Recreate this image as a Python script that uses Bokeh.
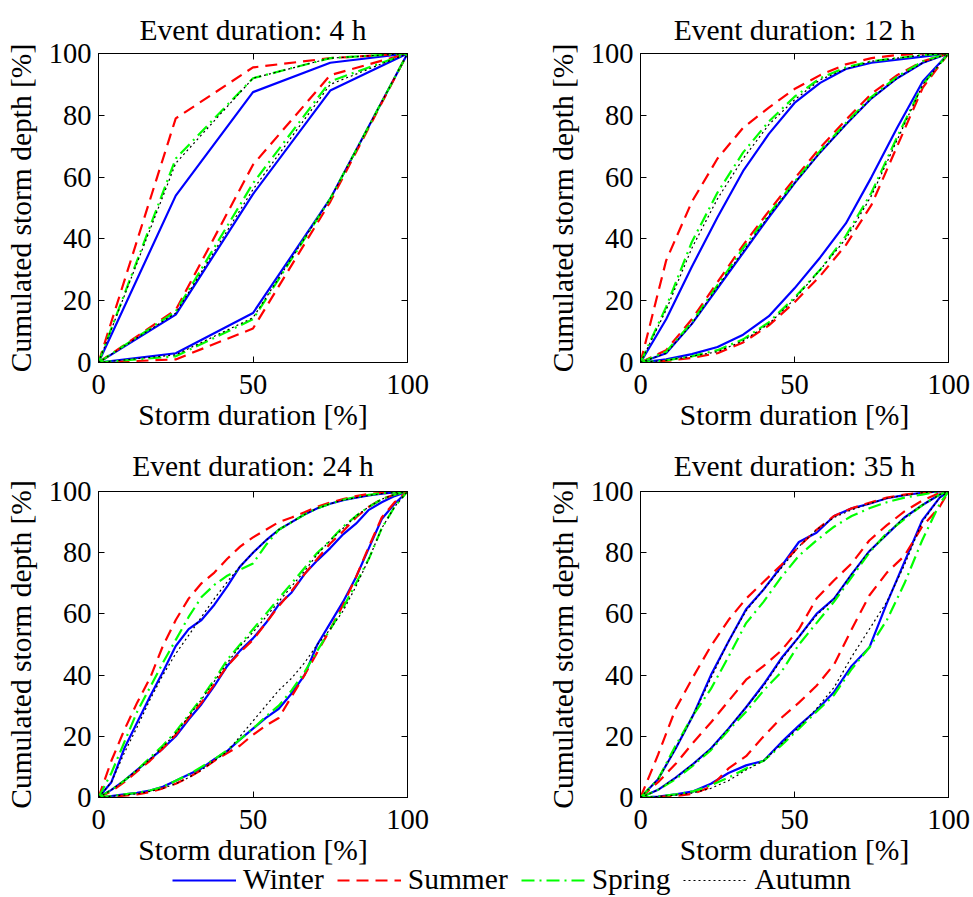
from bokeh.plotting import figure
from bokeh.layouts import column, row
from bokeh.models import Range1d, FixedTicker, LinearAxis, Legend, LegendItem
from bokeh.embed import file_html
from bokeh.resources import INLINE

# ---------------- data (percent of storm duration / cumulated depth) -------------
seasons = ["Winter", "Summer", "Spring", "Autumn"]
x_ticks = [0, 50, 100]
y_ticks = [0, 20, 40, 60, 80, 100]

# Event duration 4 h  (curves: upper, median, lower)
x_4h = [0, 25, 50, 75, 100]
winter_4h = [[0, 54, 87.5, 97, 100], [0, 15.5, 54.5, 88, 100], [0, 3, 16, 53, 100]]
summer_4h = [[0, 79, 95.5, 98.5, 100], [0, 17, 64, 93, 100], [0, 1, 11, 52, 100]]
spring_4h = [[0, 66, 92, 98.5, 100], [0, 16.5, 58, 91, 100], [0, 2, 14, 53, 100]]
autumn_4h = [[0, 64.5, 92, 98.5, 100], [0, 16, 56, 90, 100], [0, 2.5, 14.5, 53, 100]]

# Event duration 12 h
x_12h = [0, 8.33, 16.67, 25, 33.33, 41.67, 50, 58.33, 66.67, 75, 83.33, 91.67, 100]
winter_12h = [[0, 14, 31, 47, 62, 74, 84, 90.5, 95, 97, 98, 99, 100],
              [0, 3, 12.5, 24, 35.5, 47, 58, 68, 77, 85.5, 92, 97, 100],
              [0, 1, 2.7, 5, 9, 15, 24, 34, 45, 60, 76, 91, 100]]
summer_12h = [[0, 33, 52, 66, 76, 82.5, 88.5, 93, 96.5, 98.5, 99.5, 100, 100],
              [0, 4, 14, 26, 38, 49, 59.5, 69.5, 78.5, 87, 93, 97.5, 100],
              [0, 0.5, 1.5, 3, 6.5, 12, 19.5, 28, 38, 51, 70, 89, 100]]
spring_12h = [[0, 18, 39, 55, 68, 78, 86, 92, 95.5, 97.5, 98.5, 99.5, 100],
              [0, 3.5, 13, 25, 37, 48, 58.5, 68.5, 77.5, 86, 92.5, 97.5, 100],
              [0, 0.7, 2, 4, 7.5, 13, 21, 30, 41, 55, 73, 90, 100]]
autumn_12h = [[0, 17, 37, 53, 66, 77, 85, 91.5, 95, 97.5, 98.5, 99.5, 100],
              [0, 3, 12.5, 24.5, 36, 47.5, 58, 68, 77, 85.5, 92, 97, 100],
              [0, 0.7, 2, 3.5, 7, 12.5, 20.5, 30, 40, 54, 72, 90, 100]]

# Event duration 24 h
x_24h = [0, 4.17, 8.33, 12.5, 16.67, 20.83, 25, 29.17, 33.33, 37.5, 41.67, 45.83, 50,
         54.17, 58.33, 62.5, 66.67, 70.83, 75, 79.17, 83.33, 87.5, 91.67, 95.83, 100]
winter_24h = [[0, 5, 16, 24.5, 33, 41, 49.5, 55, 58, 63, 69, 75.5, 80, 84, 87.5, 90, 92.5,
               94.5, 96, 97.2, 98, 98.7, 99.3, 99.7, 100],
              [0, 2.5, 5.5, 9, 12.5, 16, 20, 25.5, 30.5, 36.5, 43, 48, 52, 57, 63, 67, 73,
               77.5, 81.5, 86, 89.5, 94, 96.5, 98.5, 100],
              [0, 0.5, 1, 1.5, 2.3, 3.5, 5.5, 7.5, 9.5, 12.5, 15.2, 19, 22.5, 26, 29, 34, 40,
               50, 57, 64, 72, 81.5, 91, 96, 100]]
summer_24h = [[0, 12, 22, 31, 39, 49.5, 58, 65, 70, 73.5, 78, 82, 85, 87.5, 90, 91.5, 93.2,
               95, 96.4, 97.5, 98.5, 99.2, 99.6, 99.9, 100],
              [0, 2, 5, 8.5, 12, 16, 20.5, 26, 31, 37, 43, 47.5, 51.5, 57, 62.5, 67.5, 73,
               78, 83, 87, 91.5, 95, 97.5, 99, 100],
              [0, 0.3, 0.6, 1, 1.8, 3, 4.5, 6.5, 9, 12, 14.5, 17, 20.5, 23.5, 26, 33, 40,
               47.5, 55, 63, 72, 82, 91.5, 96.5, 100]]
spring_24h = [[0, 8, 18, 28, 36, 44, 51.5, 59, 65.5, 69.5, 72.5, 74.5, 76.5, 82.5, 87.5, 90,
               92.5, 94.5, 96, 97.3, 98.2, 98.9, 99.4, 99.8, 100],
              [0, 2.5, 5.5, 9, 13, 17, 21.5, 27, 32.5, 38.5, 45, 50, 55, 60, 65, 70, 75, 80,
               84, 88.5, 92, 95, 97.5, 99, 100],
              [0, 0.5, 1, 1.5, 2.3, 3.5, 5.5, 7.5, 10, 12.5, 15.5, 19, 22.5, 26.5, 30, 35, 41,
               48, 55, 62, 70, 78, 88, 95, 100]]
autumn_24h = [[0, 5, 14.5, 23, 32, 40, 47, 53, 59, 65, 70.5, 75.5, 80, 84, 87.5, 90, 92.5,
               94.5, 96, 97.2, 98, 98.7, 99.3, 99.7, 100],
              [0, 2.5, 5.5, 9, 12.5, 16.5, 21, 26.5, 32, 38, 44, 49.5, 54, 59, 64, 69, 74,
               79.5, 84, 88, 92, 95, 97.5, 99, 100],
              [0, 0.4, 0.8, 1.2, 2, 3, 4.5, 6.5, 9, 12, 15, 20, 25, 30, 35, 39, 44, 50, 55,
               61, 69, 78, 88, 95, 100]]

# Event duration 35 h
x_35h = [0, 5.71, 11.43, 17.14, 22.86, 28.57, 34.29, 40, 45.71, 51.43, 57.14, 62.86,
         68.57, 74.29, 80, 85.71, 91.43, 97.14, 100]
winter_35h = [[0, 6, 16, 27, 40, 51, 61.5, 68, 75.5, 83.5, 86.5, 92, 94.5, 96, 97.8, 98.8,
               99.6, 100, 100],
              [0, 2.5, 6.5, 11, 16, 22.5, 29.5, 37, 45.5, 52.5, 60, 65, 73, 80.5, 86, 91.5,
               95.5, 99, 100],
              [0, 0.3, 1, 2, 4.5, 8, 10.5, 12, 18, 23.5, 28.5, 34.5, 43, 49, 63.5, 77, 90.5,
               98, 100]]
summer_35h = [[0, 14, 29, 39.5, 49.5, 58, 65, 70.5, 76, 82, 87.5, 92, 94.5, 96.3, 98, 99,
               99.6, 100, 100],
              [0, 5, 11, 18, 24.5, 31.5, 38.5, 43, 48, 55, 65, 71, 76.5, 84, 89, 93.5, 97,
               99.5, 100],
              [0, 0.2, 0.5, 1.2, 3.5, 9.5, 13.5, 20, 26, 31, 36.5, 43.5, 55, 66, 73.5, 79,
               88.5, 95, 100]]
spring_35h = [[0, 6, 17, 27, 35.5, 46, 57, 64, 72, 79, 84, 88.5, 92, 94.5, 96.5, 98, 99,
               100, 100],
              [0, 2.5, 6, 10.5, 15.5, 22, 28, 35, 41, 50, 57, 64, 72, 80, 86.5, 91, 95.5,
               99, 100],
              [0, 0.3, 1, 2, 4, 6.5, 9.5, 12, 17, 22.5, 28, 33.5, 42, 49, 58, 70, 84, 96,
               100]]
autumn_35h = [[0, 6, 16, 27, 39, 51, 61, 68, 75, 82, 87.5, 91.5, 94, 96, 97.8, 98.8, 99.6,
               100, 100],
              [0, 2.5, 6.5, 11, 16, 22.5, 29.5, 36.5, 45, 52.5, 59.5, 65, 73, 80.5, 86,
               91.5, 95.5, 99, 100],
              [0, 0.3, 0.8, 1.5, 3, 5.5, 9, 12, 17.5, 23, 29, 36, 46, 55, 64, 76, 90, 98,
               100]]

# ---------------- styles ----------------
FONT = "Liberation Serif"
FS = "29.5px"
TICK_FS = "28.5px"
colors = {"Winter": "#0000ff", "Summer": "#ff0000", "Spring": "#00ff00", "Autumn": "#000000"}
dashes = {"Winter": "solid", "Summer": "12 7", "Spring": "13 5 2 5", "Autumn": "2 3"}
widths = {"Winter": 2.2, "Summer": 2.2, "Spring": 2.2, "Autumn": 1.2}


def mirror_axis(ticks):
    return LinearAxis(ticker=FixedTicker(ticks=ticks), major_label_text_font_size="0px",
                      major_label_standoff=0, major_tick_in=6, major_tick_out=0,
                      minor_tick_in=0, minor_tick_out=0, axis_line_color="black")


def panel(title, x, series, width, height, mbl, mbr, mbt, mbb, title_standoff):
    p = figure(width=width, height=height, x_range=Range1d(0, 100), y_range=Range1d(0, 100),
               toolbar_location=None, output_backend="svg",
               min_border_left=mbl, min_border_right=mbr,
               min_border_top=mbt, min_border_bottom=mbb)
    p.grid.visible = False
    p.outline_line_color = "black"
    p.title.text = title
    p.title.text_font = FONT
    p.title.text_font_size = FS
    p.title.text_font_style = "normal"
    p.title.text_color = "black"
    p.title.align = "center"
    p.title.standoff = title_standoff

    p.xaxis.ticker = FixedTicker(ticks=x_ticks)
    p.yaxis.ticker = FixedTicker(ticks=y_ticks)
    p.xaxis.axis_label = "Storm duration [%]"
    p.yaxis.axis_label = "Cumulated storm depth [%]"
    for ax in (p.xaxis[0], p.yaxis[0]):
        ax.major_tick_in = 6
        ax.major_tick_out = 0
        ax.minor_tick_in = 0
        ax.minor_tick_out = 0
        ax.major_label_text_font = FONT
        ax.major_label_text_font_size = TICK_FS
        ax.major_label_text_color = "black"
        ax.axis_label_text_font = FONT
        ax.axis_label_text_font_size = FS
        ax.axis_label_text_font_style = "normal"
        ax.axis_label_text_color = "black"
        ax.axis_line_color = "black"
    p.xaxis.major_label_standoff = 12
    p.xaxis.axis_label_standoff = 2
    p.yaxis.major_label_standoff = 7
    p.yaxis.axis_label_standoff = 9
    p.add_layout(mirror_axis(x_ticks), "above")
    p.add_layout(mirror_axis(y_ticks), "right")

    for s in seasons:
        for curve in series[s]:
            p.line(x, curve, line_color=colors[s], line_dash=dashes[s], line_width=widths[s])
    return p


p1 = panel("Event duration: 4 h", x_4h,
           {"Winter": winter_4h, "Summer": summer_4h, "Spring": spring_4h,
            "Autumn": autumn_4h},
           486, 434, 98, 79, 53, 72, 16)
p2 = panel("Event duration: 12 h", x_12h,
           {"Winter": winter_12h, "Summer": summer_12h, "Spring": spring_12h,
            "Autumn": autumn_12h},
           487, 434, 154, 25, 53, 72, 16)
p3 = panel("Event duration: 24 h", x_24h,
           {"Winter": winter_24h, "Summer": summer_24h, "Spring": spring_24h,
            "Autumn": autumn_24h},
           486, 434, 98, 79, 57, 70, 20)
p4 = panel("Event duration: 35 h", x_35h,
           {"Winter": winter_35h, "Summer": summer_35h, "Spring": spring_35h,
            "Autumn": autumn_35h},
           487, 434, 154, 25, 57, 70, 20)

# legend strip below the panels
nan = float("nan")
lf = figure(width=973, height=29, toolbar_location=None, output_backend="svg",
            x_range=Range1d(0, 1), y_range=Range1d(0, 1), x_axis_type=None, y_axis_type=None,
            min_border=0, outline_line_color=None)
lf.grid.visible = False
items = []
for s in seasons:
    r = lf.line([nan], [nan], line_color=colors[s], line_dash=dashes[s],
                line_width=widths[s])
    items.append(LegendItem(label=s, renderers=[r]))
legend = Legend(items=items, orientation="horizontal", location=(172, 1),
                glyph_width=64, glyph_height=20, label_standoff=7, spacing=13,
                padding=0, margin=0, border_line_color=None, background_fill_alpha=0,
                label_text_font=FONT, label_text_font_size=FS, label_text_color="black")
lf.add_layout(legend)

layout = column(row(p1, p2), row(p3, p4), lf)
open("out.html", "w").write(file_html(layout, INLINE))
